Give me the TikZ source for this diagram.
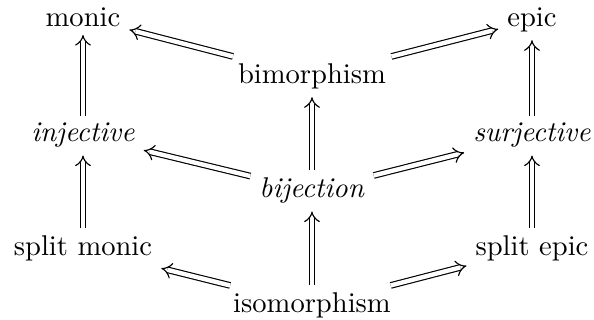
\documentclass[tikz,border=0pt]{standalone}
\usetikzlibrary{arrows.meta}
\begin{document}
\begin{tikzpicture}[x=0.35pt,y=-0.35pt,
  lbl/.style={anchor=base, inner xsep=3pt, inner ysep=2.5pt},
  impl/.style={double equal sign distance, -{Implies}, line width=0.4pt}]
\useasboundingbox (0,0) rectangle (594,320);
\node[lbl] (monic) at (83,27) {monic};
\node[lbl] (epic) at (532,27) {epic};
\node[lbl] (bimor) at (312,84) {bimorphism};
\node[lbl] (inj) at (83,142) {\textit{injective}};
\node[lbl] (surj) at (532,142) {\textit{surjective}};
\node[lbl] (bij) at (312,198) {\textit{bijection}};
\node[lbl] (smonic) at (83,256) {split monic};
\node[lbl] (sepic) at (532,256) {split epic};
\node[lbl] (iso) at (312,313) {isomorphism};
\draw[impl] (bimor) -- (monic);
\draw[impl] (bimor) -- (epic);
\draw[impl] (inj) -- (monic);
\draw[impl] (surj) -- (epic);
\draw[impl] (bij) -- (bimor);
\draw[impl] (bij) -- (inj);
\draw[impl] (bij) -- (surj);
\draw[impl] (smonic) -- (inj);
\draw[impl] (sepic) -- (surj);
\draw[impl] (iso) -- (bij);
\draw[impl] (iso) -- (smonic);
\draw[impl] (iso) -- (sepic);
\end{tikzpicture}
\end{document}
